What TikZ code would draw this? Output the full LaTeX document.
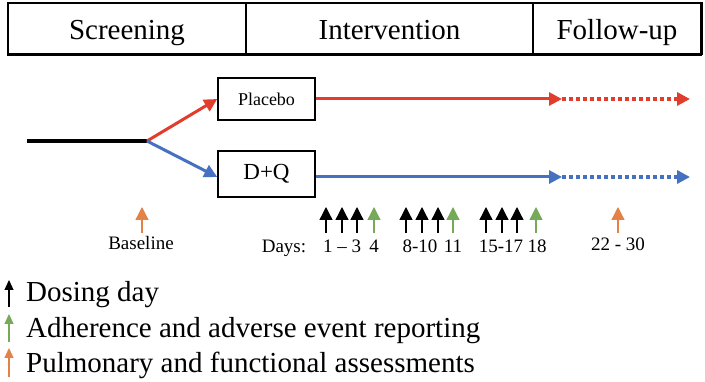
\documentclass[tikz,border=0pt]{standalone}
\usepackage{fontspec}
\setmainfont{Liberation Serif}
\usetikzlibrary{arrows.meta}
\definecolor{myred}{RGB}{226,60,45}
\definecolor{myblue}{RGB}{70,112,192}
\definecolor{mygreen}{RGB}{118,170,90}
\definecolor{myorange}{RGB}{226,130,70}
\tikzset{
  cell/.style={draw, line width=1.3pt, minimum height=51pt, inner sep=0pt, text height=26pt, text depth=3pt, font=\fontsize{29}{31}\selectfont},
  armbox/.style={draw, line width=1.5pt, minimum width=97pt, inner sep=0pt},
  mainline/.style={line width=3pt, -{Triangle[length=13pt,width=13pt]}},
  dotline/.style={line width=3.5pt, dash pattern=on 4pt off 3pt, -{Triangle[length=13pt,width=13pt]}},
  tick/.style={line width=1.3pt, -{Triangle[length=13pt,width=13pt]}},
  legtick/.style={line width=1.2pt, -{Triangle[length=10pt,width=9pt]}},
  lbl/.style={inner sep=0pt, anchor=base, font=\fontsize{19}{21}\selectfont},
  leg/.style={inner sep=0pt, anchor=base west, font=\fontsize{29}{31}\selectfont}
}
\begin{document}
\begin{tikzpicture}[x=1pt,y=-1pt]
\useasboundingbox[fill=white] (0,0) rectangle (705,382);
% header
\node[cell, minimum width=238pt] (scr) at (127,28.5) {Screening};
\node[cell, minimum width=287pt] (int) at (389.5,28.5) {Intervention};
\node[cell, minimum width=168pt] (fol) at (617,28.5) {Follow-up};
\draw[line width=2.5pt] (scr.south west) -- (fol.south east);
\draw[line width=2pt] (fol.north east) -- (fol.south east);
% arms
\coordinate (start) at (27,141);
\coordinate (split) at (147,141);
\draw[line width=3.5pt] (start) -- (split);
\node[armbox, minimum height=42pt, font=\fontsize{18}{20}\selectfont] (pl) at (266.5,99) {Placebo};
\node[armbox, minimum height=46pt, font=\fontsize{23}{25}\selectfont] (dq) at (266.5,174) {D+Q};
\draw[line width=3pt, myred, -{Triangle[length=13pt,width=13pt]}] (split) -- (pl.west);
\draw[line width=3pt, myblue, -{Triangle[length=13pt,width=13pt]}] (split) -- (dq.west |- 0,177);
\coordinate (pe) at (562,99);
\coordinate (pf) at (690,99);
\coordinate (de) at (562,177);
\coordinate (df) at (690,177);
\draw[mainline, myred] (pl.east) -- (pe);
\draw[dotline, myred] (pe) -- (pf);
\draw[mainline, myblue] (dq.east |- de) -- (de);
\draw[dotline, myblue] (de) -- (df);
% timeline ticks
\foreach \n/\x/\c in {b/142/myorange, a1/326/black, a2/342/black, a3/357/black, a4/374/mygreen,
  b1/406/black, b2/422/black, b3/438/black, b4/453/mygreen,
  c1/486/black, c2/502/black, c3/517/black, c4/536/mygreen, f/618/myorange}{
  \coordinate (\n lo) at (\x,233);
  \coordinate (\n hi) at (\x,207);
  \draw[tick, \c] (\n lo) -- (\n hi);
}
\node[lbl] (base) at (141,250) {Baseline};
\node[lbl] (days) at (284,253) {Days:};
\node[lbl] (d13) at (342,253) {1 -- 3};
\node[lbl] (d4) at (374,253) {4};
\node[lbl] (d810) at (420,253) {8-10};
\node[lbl] (d11) at (453,253) {11};
\node[lbl] (d1517) at (501,253) {15-17};
\node[lbl] (d18) at (537,253) {18};
\node[lbl] (d2230) at (618,251) {22 - 30};
% legend
\coordinate (l1lo) at (9,307); \coordinate (l1hi) at (9,280);
\coordinate (l2lo) at (9,342); \coordinate (l2hi) at (9,314);
\coordinate (l3lo) at (9,377); \coordinate (l3hi) at (9,348);
\draw[legtick, black] (l1lo) -- (l1hi);
\draw[legtick, mygreen] (l2lo) -- (l2hi);
\draw[legtick, myorange] (l3lo) -- (l3hi);
\node[leg] (t1) at (26,302) {Dosing day};
\node[leg] (t2) at (26,337.5) {Adherence and adverse event reporting};
\node[leg] (t3) at (26,373) {Pulmonary and functional assessments};
\end{tikzpicture}
\end{document}
